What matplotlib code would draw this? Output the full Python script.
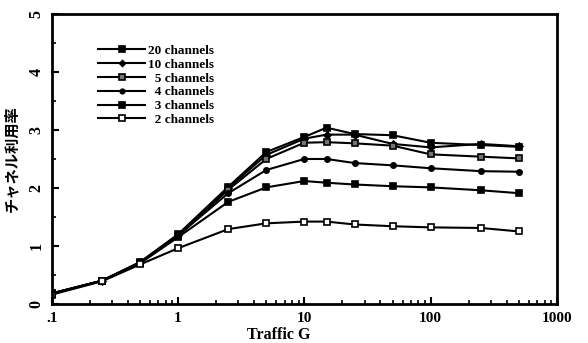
import matplotlib
matplotlib.use('Agg')
import matplotlib.pyplot as plt
from matplotlib.ticker import FixedLocator, LogLocator, NullFormatter, MultipleLocator

traffic = [0.1, 0.25, 0.5, 1, 2.5, 5, 10, 15, 25, 50, 100, 250, 500]

ch20 = [0.18, 0.40, 0.72, 1.20, 2.02, 2.62, 2.88, 3.04, 2.93, 2.91, 2.78, 2.74, 2.71]
ch10 = [0.18, 0.40, 0.72, 1.19, 2.00, 2.57, 2.85, 2.92, 2.92, 2.76, 2.70, 2.76, 2.72]
ch5 = [0.18, 0.40, 0.71, 1.17, 1.97, 2.50, 2.78, 2.79, 2.77, 2.73, 2.58, 2.54, 2.51]
ch4 = [0.18, 0.40, 0.71, 1.18, 1.91, 2.31, 2.50, 2.50, 2.43, 2.39, 2.34, 2.29, 2.28]
ch3 = [0.17, 0.40, 0.70, 1.15, 1.76, 2.01, 2.12, 2.09, 2.06, 2.03, 2.01, 1.96, 1.91]
ch2 = [0.16, 0.39, 0.68, 0.96, 1.29, 1.39, 1.42, 1.42, 1.37, 1.34, 1.32, 1.31, 1.25]

labels = ['20 channels', '10 channels', '  5 channels', '  4 channels', '  3 channels', '  2 channels']
xtick_vals = [0.1, 1, 10, 100, 1000]
xtick_text = ['.1', '1', '10', '100', '1000']

serif = 'Liberation Serif'

fig = plt.figure(figsize=(5.88, 3.43), dpi=100)
ax = fig.add_axes([0.088, 0.114, 0.859, 0.845])

styles = [
    dict(marker='s', ms=5, mfc='black'),
    dict(marker='D', ms=3.5, mfc='black'),
    dict(marker='s', ms=5, mfc='0.45'),
    dict(marker='o', ms=3.8, mfc='black'),
    dict(marker='s', ms=5, mfc='black'),
    dict(marker='s', ms=5, mfc='white'),
]
for ys, lab, st in zip([ch20, ch10, ch5, ch4, ch3, ch2], labels, styles):
    ax.plot(traffic, ys, color='black', lw=1.5, mec='black', mew=1.2, label=lab, **st)

ax.set_xscale('log')
ax.set_xlim(0.1, 1000)
ax.set_ylim(0, 5)

ax.xaxis.set_major_locator(FixedLocator(xtick_vals))
ax.set_xticklabels(xtick_text, fontfamily=serif, fontweight='bold', fontsize=11)
ax.xaxis.set_minor_locator(LogLocator(base=10, subs=range(2, 10)))
ax.xaxis.set_minor_formatter(NullFormatter())
ax.yaxis.set_major_locator(MultipleLocator(1))
ax.yaxis.set_minor_locator(MultipleLocator(0.5))
for t in ax.get_yticklabels():
    t.set_fontfamily(serif)
    t.set_fontweight('bold')
    t.set_fontsize(11.5)
    t.set_rotation(90)
    t.set_va('center')

ax.tick_params(which='both', direction='in', top=False, right=False)
ax.tick_params(which='major', length=5, width=1.5)
ax.tick_params(which='minor', length=3, width=1.2)
ax.tick_params(axis='x', pad=6)
ax.tick_params(axis='y', pad=5)
for s in ax.spines.values():
    s.set_linewidth(2)

ax.set_xlabel('Traffic G', fontfamily=serif, fontweight='bold', fontsize=11.5)
ax.xaxis.set_label_coords(0.45, -0.081, transform=ax.transAxes)
ax.xaxis.label.set_va('top')
ax.set_ylabel('チャネル利用率', fontfamily=['Noto Sans CJK JP', 'DejaVu Sans'],
              fontweight='bold', fontsize=11, labelpad=7)

leg = ax.legend(loc='upper left', bbox_to_anchor=(0.068, 0.935), frameon=False,
                prop={'family': serif, 'weight': 'bold', 'size': 9.5},
                handlelength=3.6, handletextpad=0.2, labelspacing=0.12, markerscale=0.85)

fig.savefig('out.png', dpi=100)
